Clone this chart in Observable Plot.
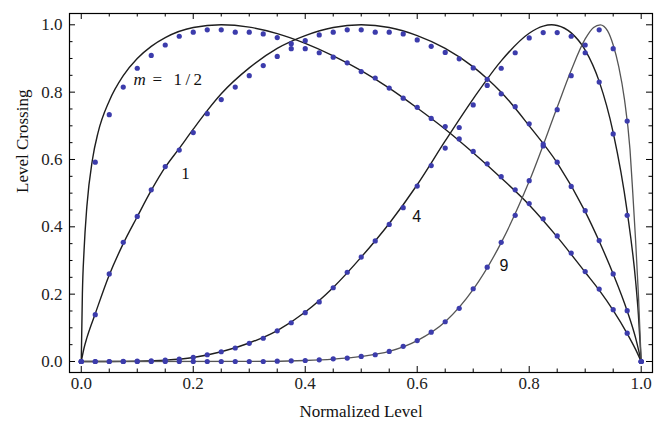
<!DOCTYPE html>
<html><head><meta charset="utf-8">
<script src="https://cdn.jsdelivr.net/npm/d3@7"></script>
<script src="https://cdn.jsdelivr.net/npm/@observablehq/plot@0.6"></script>
<style>html,body{margin:0;padding:0;background:#fff;overflow:hidden}</style>
</head><body><div id="chart"></div>
<script>
// ---- data ----
const dotX = [0,0.025,0.05,0.075,0.1,0.125,0.15,0.175,0.2,0.225,0.25,0.275,0.3,0.325,0.35,0.375,0.4,0.425,0.45,0.475,0.5,0.525,0.55,0.575,0.6,0.625,0.65,0.675,0.7,0.725,0.75,0.775,0.8,0.825,0.85,0.875,0.9,0.925,0.95,0.975,1];
const dotsHalf = [0,0.592,0.733,0.815,0.871,0.909,0.94,0.966,0.978,0.985,0.985,0.978,0.978,0.973,0.962,0.944,0.929,0.917,0.904,0.887,0.861,0.842,0.812,0.782,0.755,0.722,0.698,0.661,0.624,0.587,0.549,0.51,0.469,0.424,0.373,0.322,0.267,0.215,0.154,0.084,0];
const dotsOne = [0,0.139,0.26,0.354,0.431,0.51,0.579,0.628,0.68,0.736,0.778,0.815,0.849,0.879,0.906,0.929,0.953,0.97,0.978,0.985,0.985,0.978,0.978,0.973,0.955,0.936,0.918,0.899,0.872,0.838,0.795,0.757,0.706,0.646,0.592,0.52,0.448,0.359,0.26,0.151,0];
const dotsFour = [0,0,0,0.0003,0.001,0.002,0.004,0.007,0.012,0.02,0.029,0.04,0.054,0.069,0.091,0.115,0.145,0.177,0.219,0.265,0.31,0.358,0.407,0.457,0.521,0.582,0.634,0.695,0.762,0.82,0.871,0.917,0.961,0.977,0.977,0.966,0.917,0.83,0.676,0.434,0];
const dotsNine = [0,0,0,0,0,0,0,0,0,0,0,0,0,0,0.001,0.002,0.003,0.005,0.008,0.01,0.015,0.02,0.03,0.045,0.062,0.087,0.118,0.158,0.216,0.28,0.354,0.434,0.537,0.64,0.748,0.849,0.94,0.985,0.929,0.714,0];

const halfLineX = [0,0.002,0.005,0.01,0.02,0.03,0.05,0.075,0.1,0.125,0.15,0.2,0.25,0.3,0.35,0.4,0.45,0.5,0.55,0.6,0.65,0.7,0.75,0.8,0.85,0.9,0.925,0.95,0.975,0.99,1];
const halfLineY = [0,0.2,0.33,0.46,0.6,0.68,0.774,0.849,0.9,0.936,0.962,0.992,1.0,0.993,0.974,0.945,0.908,0.864,0.812,0.753,0.69,0.62,0.545,0.465,0.37,0.265,0.212,0.152,0.083,0.036,0];
const oneLineX = [0,0.005,0.01,0.025,0.05,0.075,0.1,0.125,0.15,0.175,0.2,0.225,0.25,0.3,0.35,0.4,0.45,0.5,0.55,0.6,0.65,0.7,0.725,0.75,0.8,0.85,0.9,0.925,0.95,0.975,0.99,1];
const oneLineY = [0,0.04,0.07,0.142,0.257,0.35,0.43,0.508,0.577,0.633,0.69,0.745,0.795,0.872,0.93,0.968,0.992,1.0,0.992,0.968,0.93,0.875,0.84,0.8,0.7,0.59,0.445,0.357,0.26,0.15,0.07,0];
const fourLineX = [0,0.05,0.1,0.15,0.2,0.25,0.3,0.35,0.4,0.45,0.5,0.55,0.6,0.65,0.7,0.75,0.8,0.825,0.84,0.85,0.875,0.9,0.925,0.95,0.975,0.99,0.995,1];
const fourLineY = [0,0.0001,0.001,0.004,0.012,0.029,0.055,0.092,0.147,0.22,0.31,0.41,0.525,0.655,0.78,0.893,0.975,0.996,1.0,0.998,0.976,0.925,0.832,0.68,0.445,0.24,0.14,0];
const nineLineX = [0,0.3,0.4,0.45,0.5,0.55,0.6,0.65,0.7,0.75,0.8,0.85,0.875,0.9,0.915,0.927,0.94,0.95,0.96,0.97,0.98,0.985,0.99,0.995,1];
const nineLineY = [0,0.0003,0.003,0.007,0.015,0.03,0.062,0.118,0.214,0.353,0.535,0.755,0.865,0.958,0.992,1.0,0.982,0.94,0.875,0.78,0.63,0.5,0.36,0.2,0];

const majorTicks = [0,0.2,0.4,0.6,0.8,1.0];
const minorTicks = [0.05,0.1,0.15,0.25,0.3,0.35,0.45,0.5,0.55,0.65,0.7,0.75,0.85,0.9,0.95];

const curveLabels = [
  {x: 0.186, y: 0.557, text: "1", font: "serif"},
  {x: 0.599, y: 0.429, text: "4", font: "sans"},
  {x: 0.755, y: 0.283, text: "9", font: "sans"}
];
const mLabel = {x: 0.0934, y: 0.8375};

// ---- layout ----
const W = 658, H = 425, mL = 69, mR = 6, mT = 13, mB = 53;
const innerW = W - mL - mR, innerH = H - mT - mB;
const serif = "Liberation Serif, DejaVu Serif, serif";
const sans = "Liberation Sans, Arial, sans-serif";
const dotColor = "#3c3cac";
const lineColor = "#1e1e1e";

const lineMark = (xs, ys, stroke, sw) =>
  Plot.line(ys, {x: (d, i) => xs[i], y: d => d, curve: "monotone-x", stroke, strokeWidth: sw});
const dotMark = ys =>
  Plot.dot(ys, {x: (d, i) => dotX[i], y: d => d, r: 2.6, fill: dotColor, stroke: "none"});

const chart = Plot.plot({
  width: W, height: H,
  marginLeft: mL, marginRight: mR, marginTop: mT, marginBottom: mB,
  x: {domain: [-0.021, 1.0202], axis: null},
  y: {domain: [-0.0327, 1.0336], axis: null},
  style: {fontFamily: serif, fontSize: "17px", background: "white", color: "black"},
  marks: [
    lineMark(halfLineX, halfLineY, lineColor, 1.4),
    lineMark(oneLineX, oneLineY, lineColor, 1.4),
    lineMark(fourLineX, fourLineY, lineColor, 1.4),
    lineMark(nineLineX, nineLineY, "#555", 1.3),
    dotMark(dotsHalf),
    dotMark(dotsOne),
    dotMark(dotsFour),
    dotMark(dotsNine),
    // inward ticks on all four sides
    Plot.ruleX(majorTicks, {x: d => d, insetTop: innerH - 6, stroke: "black"}),
    Plot.ruleX(minorTicks, {x: d => d, insetTop: innerH - 3.5, stroke: "black"}),
    Plot.ruleX(majorTicks, {x: d => d, insetBottom: innerH - 6, stroke: "black"}),
    Plot.ruleX(minorTicks, {x: d => d, insetBottom: innerH - 3.5, stroke: "black"}),
    Plot.ruleY(majorTicks, {y: d => d, insetRight: innerW - 6, stroke: "black"}),
    Plot.ruleY(minorTicks, {y: d => d, insetRight: innerW - 3.5, stroke: "black"}),
    Plot.ruleY(majorTicks, {y: d => d, insetLeft: innerW - 6, stroke: "black"}),
    Plot.ruleY(minorTicks, {y: d => d, insetLeft: innerW - 3.5, stroke: "black"}),
    Plot.frame({stroke: "black", strokeWidth: 1.2}),
    // tick labels
    Plot.text(majorTicks, {x: d => d, frameAnchor: "bottom", dy: 16, text: d => d3.format(".1f")(d), fontSize: 17, fontFamily: serif, fill: "#222"}),
    Plot.text(majorTicks, {y: d => d, frameAnchor: "left", dx: -7, textAnchor: "end", text: d => d3.format(".1f")(d), fontSize: 17, fontFamily: serif, fill: "#222"}),
    // axis titles
    Plot.text(["Normalized Level"], {frameAnchor: "bottom", dy: 44, text: d => d, fontSize: 17, fontFamily: serif, fill: "#111"}),
    Plot.text(["Level Crossing"], {frameAnchor: "left", dx: -47, rotate: -90, text: d => d, fontSize: 17, fontFamily: serif, fill: "#111"}),
    // curve labels
    Plot.text([mLabel], {x: "x", y: "y", text: () => "m", textAnchor: "start", fontStyle: "italic", fontSize: 17, fontFamily: serif, fill: "#111"}),
    Plot.text([mLabel], {x: "x", y: "y", text: () => "=", textAnchor: "start", dx: 19, fontSize: 17, fontFamily: serif, fill: "#111"}),
    Plot.text([mLabel], {x: "x", y: "y", text: () => "1\u2009/\u20092", textAnchor: "start", dx: 40, fontSize: 17, fontFamily: serif, fill: "#111"}),
    Plot.text(curveLabels.filter(d => d.font === "serif"), {x: "x", y: "y", text: "text", fontSize: 17, fontFamily: serif, fill: "#111"}),
    Plot.text(curveLabels.filter(d => d.font === "sans"), {x: "x", y: "y", text: "text", fontSize: 16, fontFamily: sans, fill: "#111"})
  ]
});
document.getElementById("chart").appendChild(chart);
</script>
</body></html>
